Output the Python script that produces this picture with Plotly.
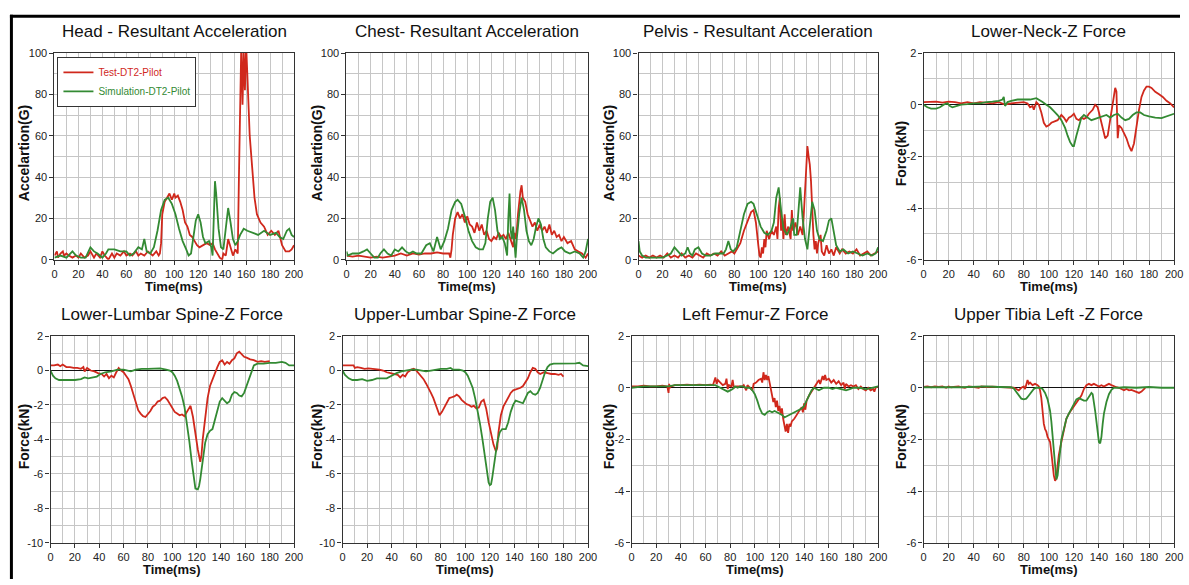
import plotly.graph_objects as go

RED = "#d0281c"
GREEN = "#338a33"
GRID = "#c6c6c6"
AXC = "#333333"

# ---------------- data (time ms, value) ----------------
head_test = [(0,2),(2,4),(3,1),(5,3),(7,4),(8,2),(10,3),(12,2),(15,1),(18,2),(20,1),(22,3),(25,1),(28,2),(30,4),(33,1),(35,3),(38,1),(40,4),(42,2),(45,0),(48,3),(50,1),(52,3),(55,2),(58,4),(60,2),(63,3),(65,2),(68,4),(70,2),(72,3),(75,2),(78,4),(80,3),(82,2),(85,4),(87,2),(88,3),(89,8),(90,22),(92,28),(94,30),(96,32),(98,29),(100,32),(101,30),(103,31),(105,28),(107,24),(109,18),(111,16),(113,12),(115,11),(117,9),(119,7),(121,6),(124,7),(127,8),(130,7),(132,8),(134,5),(136,3),(138,1),(140,0),(141,3),(143,2),(145,10),(147,6),(149,2),(151,5),(153,3),(154,40),(155,80),(156,105),(157,75),(158,100),(159,82),(160,104),(161,90),(162,76),(163,60),(165,45),(167,30),(169,22),(172,18),(175,16),(178,12),(181,14),(184,12),(187,14),(190,7),(193,4),(196,4),(198,5),(200,7)]
head_sim = [(0,1),(5,2),(10,1),(15,4),(18,2),(22,1),(26,1),(30,6),(33,4),(36,3),(40,1),(43,3),(45,5),(50,5),(55,4),(60,4),(63,2),(66,3),(70,6),(73,5),(75,10),(77,4),(80,3),(83,6),(86,14),(89,24),(92,29),(95,30),(98,27),(101,22),(104,15),(107,9),(110,5),(112,2),(114,3),(116,10),(118,19),(120,22),(122,18),(124,11),(126,8),(129,9),(131,6),(132,2),(133,20),(134,38),(135,32),(137,15),(139,6),(141,5),(143,15),(145,25),(147,18),(149,10),(151,7),(153,9),(155,12),(158,15),(161,14),(165,13),(170,12),(175,14),(180,12),(185,13),(188,11),(191,10),(194,14),(196,15),(198,12),(200,11)]

chest_test = [(0,2),(5,1.5),(10,2),(15,1.5),(20,1),(25,1.5),(30,1),(35,1.5),(40,2),(45,3),(50,2),(55,3),(60,2.5),(65,3),(70,3),(75,3.5),(80,3),(85,3),(86,1),(87,5),(88,12),(90,20),(92,23),(94,20),(96,22),(98,18),(100,21),(102,17),(104,16),(106,13),(108,18),(110,14),(112,17),(114,12),(116,14),(118,10),(120,9),(122,11),(124,10),(126,13),(128,11),(130,12),(132,10),(134,13),(136,9),(138,6),(139,13),(140,10),(141,14),(142,22),(144,33),(145,36),(146,30),(148,28),(150,22),(152,19),(154,16),(156,18),(158,14),(160,17),(162,14),(164,16),(166,13),(168,17),(170,12),(172,14),(174,11),(176,12),(178,9),(180,11),(183,8),(186,9),(189,5),(192,4),(195,3),(198,1),(200,3)]
chest_sim = [(0,4),(1,2),(5,3),(10,3),(14,4),(17,5),(20,3),(23,1),(26,1),(28,3),(31,5),(34,3),(37,2),(40,5),(43,4),(46,6),(49,4),(52,3),(55,4),(58,3),(62,3),(66,7),(69,8),(72,4),(75,11),(78,5),(81,9),(84,15),(87,24),(90,28),(92,29),(95,27),(98,21),(101,14),(104,9),(107,6),(110,5),(113,5),(115,8),(117,20),(119,28),(121,30),(123,24),(125,14),(127,10),(129,11),(131,8),(133,2),(134,20),(135,32),(136,14),(137,10),(138,16),(139,8),(140,1),(141,10),(143,22),(145,30),(147,24),(149,14),(151,9),(153,7),(155,10),(157,16),(159,20),(161,17),(163,10),(165,6),(168,4),(171,3),(175,5),(178,6),(181,4),(185,3),(189,4),(193,3),(196,1),(198,4),(200,10)]

pelvis_test = [(0,2),(3,1),(6,2),(9,1),(12,2),(15,1),(18,2),(21,1),(24,3),(27,1),(30,2),(33,1),(36,3),(39,1),(42,2),(45,1),(48,3),(51,2),(54,1),(57,3),(60,2),(63,3),(66,2),(69,4),(72,2),(75,3),(78,4),(80,3),(82,5),(85,8),(88,14),(91,19),(94,23),(96,24),(98,18),(100,7),(101,2),(102,1),(103,6),(104,3),(105,10),(106,6),(107,14),(109,10),(111,14),(113,12),(115,16),(116,10),(117,25),(118,30),(119,14),(120,20),(121,10),(122,22),(123,12),(125,16),(127,10),(128,24),(129,14),(131,18),(133,12),(135,16),(137,12),(138,22),(139,35),(140,45),(141,55),(142,50),(143,46),(144,38),(145,24),(146,12),(147,5),(148,9),(149,3),(150,8),(152,12),(153,4),(155,2),(157,7),(159,3),(161,5),(163,2),(165,6),(168,3),(170,5),(173,3),(176,4),(179,3),(182,5),(185,2),(188,3),(191,4),(194,2),(197,3),(200,4)]
pelvis_sim = [(0,9),(1,4),(3,2),(6,1),(10,1),(15,1),(20,1),(24,2),(27,3),(30,6),(33,4),(36,2),(39,3),(41,6),(43,3),(45,2),(47,5),(50,6),(53,3),(56,2),(60,2),(64,3),(68,3),(71,3),(73,5),(75,9),(77,5),(79,4),(82,6),(85,14),(88,22),(91,27),(94,28),(96,27),(99,22),(102,16),(105,13),(108,12),(111,14),(113,18),(115,30),(117,35),(119,24),(121,15),(124,12),(127,16),(129,20),(130,12),(132,12),(134,30),(135,35),(137,20),(139,10),(141,5),(143,18),(145,28),(147,24),(149,14),(151,10),(154,9),(157,14),(159,19),(161,20),(163,14),(165,7),(168,4),(171,5),(175,3),(179,4),(183,3),(187,2),(191,3),(195,2),(198,3),(200,6)]

neck_test = [(0,0.1),(5,0.1),(10,0.12),(15,0.08),(20,0.12),(25,0.1),(30,0.05),(35,0.1),(40,0.05),(45,0.1),(50,0.08),(55,0.05),(60,0.1),(65,0.0),(70,0.05),(75,0.08),(80,0.1),(83,0.05),(85,-0.1),(87,-0.05),(88,-0.2),(90,0.1),(92,0.0),(94,-0.3),(96,-0.7),(98,-0.85),(100,-0.8),(102,-0.7),(104,-0.65),(107,-0.6),(110,-0.4),(112,-0.5),(114,-0.65),(116,-0.5),(118,-0.45),(120,-0.35),(122,-0.55),(124,-0.6),(126,-0.5),(128,-0.55),(130,-0.5),(132,-0.35),(135,-0.2),(137,0.0),(139,-0.1),(141,-0.5),(143,-1.0),(145,-1.3),(147,-1.2),(149,-0.6),(151,0.0),(152,0.4),(153,0.65),(154,0.5),(155,-1.3),(156,-0.8),(158,-0.9),(160,-1.1),(162,-1.3),(164,-1.6),(166,-1.8),(168,-1.5),(170,-0.8),(172,-0.2),(174,0.3),(176,0.55),(178,0.7),(180,0.7),(182,0.65),(185,0.5),(188,0.4),(191,0.3),(194,0.15),(197,0.05),(200,-0.1)]
neck_sim = [(0,0.0),(3,-0.1),(6,-0.15),(10,-0.15),(13,-0.1),(16,0.0),(19,0.05),(21,-0.05),(23,-0.1),(26,-0.05),(30,0.0),(35,0.02),(40,0.05),(45,0.05),(50,0.1),(55,0.12),(60,0.15),(63,0.2),(64,0.3),(65,-0.05),(67,0.1),(70,0.15),(75,0.2),(80,0.2),(85,0.2),(90,0.25),(92,0.2),(95,0.1),(98,0.0),(101,-0.1),(104,-0.25),(107,-0.4),(110,-0.6),(113,-0.9),(115,-1.2),(117,-1.45),(119,-1.6),(120,-1.6),(122,-1.2),(124,-0.8),(126,-0.5),(128,-0.4),(131,-0.5),(134,-0.6),(137,-0.55),(140,-0.5),(143,-0.45),(146,-0.4),(149,-0.5),(152,-0.4),(155,-0.35),(158,-0.5),(161,-0.6),(164,-0.55),(167,-0.4),(170,-0.3),(173,-0.3),(176,-0.4),(180,-0.45),(185,-0.5),(190,-0.52),(195,-0.45),(200,-0.35)]

lowlumbar_test = [(0,0.3),(3,0.3),(6,0.35),(8,0.25),(10,0.35),(13,0.2),(16,0.2),(19,0.15),(22,0.15),(25,0.1),(27,0.2),(28,-0.05),(30,0.15),(33,0.0),(36,-0.05),(39,-0.15),(42,-0.2),(44,-0.35),(46,-0.2),(48,-0.45),(50,-0.3),(52,-0.4),(54,-0.1),(56,0.15),(58,0.0),(60,-0.1),(62,-0.3),(64,-0.5),(66,-0.9),(68,-1.4),(70,-1.9),(72,-2.3),(74,-2.5),(76,-2.65),(78,-2.7),(80,-2.55),(82,-2.35),(84,-2.1),(86,-2.0),(88,-1.8),(90,-1.75),(92,-1.6),(94,-1.55),(96,-1.7),(98,-1.95),(100,-2.2),(102,-2.4),(104,-2.5),(106,-2.6),(108,-2.55),(110,-2.65),(112,-2.4),(114,-2.2),(115,-2.05),(117,-2.7),(119,-3.7),(121,-4.6),(123,-5.3),(124,-4.9),(125,-4.0),(127,-2.8),(129,-1.6),(131,-0.9),(133,-0.5),(135,-0.2),(137,0.2),(139,0.5),(141,0.6),(143,0.35),(145,0.5),(147,0.4),(149,0.6),(151,0.7),(153,1.0),(155,1.1),(157,0.95),(159,0.8),(161,0.75),(164,0.65),(167,0.6),(170,0.5),(173,0.55),(176,0.5),(180,0.55)]
lowlumbar_sim = [(0,0.0),(2,-0.3),(4,-0.45),(7,-0.55),(10,-0.55),(15,-0.55),(20,-0.55),(25,-0.5),(28,-0.4),(31,-0.45),(35,-0.4),(38,-0.35),(41,-0.2),(45,-0.1),(50,-0.05),(55,0.05),(60,0.05),(63,0.0),(66,-0.05),(70,0.05),(75,0.1),(80,0.1),(85,0.1),(90,0.12),(95,0.05),(98,0.0),(100,-0.1),(102,-0.3),(104,-0.6),(106,-1.0),(108,-1.5),(110,-2.1),(112,-3.0),(114,-4.1),(116,-5.3),(118,-6.4),(119,-6.85),(121,-6.9),(122,-6.7),(123,-6.3),(125,-5.2),(127,-4.2),(129,-3.7),(131,-3.5),(133,-3.4),(135,-2.9),(137,-2.3),(139,-1.8),(141,-1.6),(143,-1.75),(145,-1.9),(147,-1.8),(149,-1.4),(151,-1.25),(153,-1.3),(155,-1.45),(157,-1.5),(159,-1.3),(161,-0.9),(163,-0.4),(165,0.0),(167,0.3),(170,0.4),(175,0.4),(180,0.45),(185,0.45),(190,0.5),(193,0.45),(196,0.3),(200,0.3)]

uplumbar_test = [(0,0.3),(3,0.3),(6,0.28),(9,0.3),(10,0.15),(12,0.2),(15,0.15),(18,0.1),(21,0.12),(24,0.1),(27,0.1),(30,0.05),(33,0.0),(36,-0.1),(39,-0.15),(42,-0.2),(45,-0.25),(47,-0.4),(49,-0.25),(51,-0.35),(53,-0.1),(56,0.05),(58,0.1),(60,0.0),(62,-0.15),(64,-0.3),(66,-0.5),(68,-0.75),(70,-1.0),(72,-1.3),(74,-1.6),(76,-2.0),(78,-2.5),(79,-2.6),(81,-2.4),(83,-2.1),(85,-1.8),(87,-1.6),(89,-1.55),(91,-1.5),(93,-1.4),(95,-1.5),(97,-1.7),(99,-1.85),(101,-1.95),(103,-2.0),(105,-2.1),(107,-2.05),(109,-2.2),(111,-2.15),(113,-1.8),(115,-1.7),(117,-2.2),(119,-3.0),(121,-3.7),(123,-4.3),(125,-4.7),(126,-4.5),(127,-3.6),(129,-2.6),(131,-2.1),(133,-1.8),(135,-1.5),(137,-1.3),(139,-1.15),(141,-1.1),(143,-1.05),(145,-1.0),(147,-0.9),(149,-0.7),(151,-0.45),(153,-0.1),(155,0.15),(157,0.1),(159,-0.1),(161,-0.2),(164,-0.1),(167,-0.15),(170,-0.2),(173,-0.2),(176,-0.25),(178,-0.2),(180,-0.35)]
uplumbar_sim = [(0,0.0),(2,-0.25),(5,-0.45),(8,-0.55),(12,-0.55),(16,-0.5),(20,-0.6),(24,-0.55),(28,-0.45),(32,-0.45),(36,-0.45),(40,-0.3),(44,-0.15),(48,-0.05),(52,0.0),(56,0.05),(60,0.05),(64,0.0),(68,-0.05),(72,0.0),(76,0.05),(80,0.1),(85,0.1),(88,0.15),(90,0.05),(95,0.05),(98,0.0),(100,-0.1),(102,-0.3),(104,-0.6),(106,-1.0),(108,-1.6),(110,-2.3),(112,-3.1),(114,-4.0),(116,-5.0),(118,-5.9),(119,-6.5),(120,-6.65),(121,-6.6),(122,-6.2),(124,-5.2),(126,-4.2),(128,-3.6),(130,-3.4),(133,-3.4),(135,-3.0),(137,-2.4),(139,-2.0),(141,-1.75),(143,-1.8),(145,-1.85),(147,-1.9),(149,-1.6),(151,-1.3),(153,-1.2),(155,-1.35),(157,-1.4),(159,-1.3),(161,-1.0),(163,-0.5),(165,-0.1),(167,0.2),(169,0.35),(172,0.4),(176,0.4),(180,0.4),(185,0.4),(190,0.42),(193,0.45),(196,0.3),(200,0.25)]

femur_test = [(0,0.05),(5,0.05),(10,0.08),(15,0.05),(20,0.05),(25,0.08),(29,0.05),(30,-0.2),(30.5,0.15),(31,0.0),(32,0.05),(35,0.1),(40,0.1),(45,0.12),(50,0.1),(55,0.12),(60,0.1),(64,0.12),(66,0.1),(67,0.25),(68,0.4),(69,0.15),(70,0.3),(72,0.2),(74,0.1),(76,0.15),(77,0.35),(78,-0.05),(79,0.1),(81,0.05),(82,0.3),(83,0.0),(85,0.05),(88,0.05),(90,0.05),(91,0.1),(93,-0.1),(94,0.1),(96,0.0),(98,-0.1),(99,0.15),(101,0.2),(103,0.3),(105,0.35),(106,0.2),(107,0.6),(108,0.3),(109,0.5),(110,0.3),(111,0.45),(112,0.2),(113,0.0),(114,-0.3),(115,-0.55),(116,-0.4),(117,-0.75),(118,-0.5),(119,-0.9),(120,-0.7),(121,-1.0),(122,-0.8),(123,-1.2),(124,-1.5),(125,-1.7),(126,-1.4),(127,-1.75),(128,-1.4),(129,-1.5),(130,-1.3),(132,-1.2),(134,-1.05),(136,-0.9),(138,-0.75),(139,-0.95),(140,-0.6),(141,-0.85),(142,-0.5),(144,-0.3),(146,-0.15),(148,0.05),(150,0.2),(152,0.3),(153,0.15),(155,0.45),(156,0.3),(157,0.5),(158,0.3),(160,0.35),(162,0.2),(164,0.3),(166,0.15),(168,0.25),(170,0.1),(172,0.2),(173,-0.05),(174,0.15),(176,0.05),(178,0.1),(180,0.05),(182,0.1),(184,-0.05),(186,0.05),(188,-0.05),(190,-0.1),(192,0.0),(194,-0.1),(196,-0.05),(197,-0.15),(198,0.0),(200,0.05)]
femur_sim = [(0,0.0),(5,0.03),(10,0.05),(20,0.05),(30,0.05),(35,0.1),(40,0.1),(50,0.1),(60,0.1),(65,0.12),(68,0.1),(70,0.05),(72,0.0),(74,-0.05),(76,-0.1),(78,-0.15),(80,-0.1),(82,-0.05),(84,0.05),(86,0.0),(88,0.05),(90,0.05),(93,0.0),(96,0.0),(98,-0.1),(100,-0.25),(102,-0.5),(104,-0.8),(106,-1.0),(108,-1.05),(110,-0.95),(112,-0.9),(114,-0.95),(116,-0.9),(118,-0.95),(120,-1.0),(122,-1.05),(124,-1.15),(126,-1.1),(128,-1.05),(130,-1.0),(132,-0.95),(134,-0.9),(136,-0.85),(138,-0.8),(140,-0.7),(142,-0.5),(144,-0.3),(146,-0.1),(148,0.0),(150,-0.05),(152,-0.1),(154,-0.05),(156,0.0),(160,0.0),(163,-0.05),(166,0.0),(170,-0.05),(174,-0.1),(177,-0.05),(180,0.0),(185,0.0),(190,-0.05),(195,0.0),(200,0.05)]

tibia_test = [(0,0.03),(3,0.05),(6,0.02),(9,0.05),(12,0.03),(15,0.05),(18,0.0),(20,0.05),(22,0.02),(25,0.03),(28,0.05),(30,0.02),(33,0.0),(36,0.05),(40,0.03),(44,0.0),(46,0.05),(50,0.03),(55,0.04),(60,0.03),(65,0.03),(70,0.02),(72,0.0),(74,-0.05),(76,-0.1),(78,0.0),(80,0.05),(81,-0.05),(82,0.1),(83,0.3),(84,0.15),(85,0.2),(87,0.1),(89,0.15),(91,0.1),(92,0.05),(93,-0.1),(94,-0.4),(95,-0.9),(96,-1.4),(97,-1.6),(98,-1.7),(99,-1.9),(100,-2.0),(101,-2.1),(102,-2.5),(103,-3.0),(104,-3.4),(105,-3.6),(106,-3.5),(107,-3.0),(108,-2.6),(110,-2.1),(112,-1.6),(114,-1.2),(116,-1.0),(118,-0.85),(120,-0.75),(122,-0.6),(124,-0.45),(126,-0.3),(128,-0.05),(130,0.1),(132,0.15),(134,0.1),(136,0.15),(138,0.1),(140,0.05),(142,0.1),(144,0.05),(146,0.1),(148,0.15),(150,0.1),(152,0.05),(154,0.02),(156,0.0),(158,-0.05),(160,-0.1),(162,-0.05),(164,-0.1),(166,-0.08),(168,-0.12),(170,-0.18),(172,-0.2),(174,-0.15),(176,-0.05),(177,0.0)]
tibia_sim = [(0,0.02),(10,0.03),(20,0.02),(30,0.02),(40,0.03),(50,0.05),(60,0.03),(70,0.02),(72,-0.03),(74,-0.15),(76,-0.3),(78,-0.42),(80,-0.45),(82,-0.42),(84,-0.3),(86,-0.15),(88,-0.05),(90,0.0),(93,0.0),(95,-0.05),(97,-0.2),(99,-0.45),(101,-0.9),(102,-1.3),(103,-1.8),(104,-2.4),(105,-3.1),(106,-3.55),(107,-3.4),(108,-2.9),(109,-2.4),(110,-2.0),(112,-1.6),(114,-1.2),(116,-1.0),(118,-0.8),(120,-0.6),(122,-0.45),(124,-0.4),(126,-0.45),(128,-0.5),(130,-0.5),(132,-0.35),(134,-0.2),(135,-0.25),(136,-0.5),(137,-0.9),(138,-1.3),(139,-1.8),(140,-2.1),(141,-2.15),(142,-1.9),(143,-1.4),(144,-1.0),(146,-0.55),(148,-0.25),(150,-0.08),(152,0.0),(156,0.0),(160,0.02),(170,0.0),(180,0.03),(190,0.0),(200,0.0)]

titles = ["Head - Resultant Acceleration", "Chest- Resultant Acceleration",
          "Pelvis - Resultant Acceleration", "Lower-Neck-Z Force",
          "Lower-Lumbar Spine-Z Force", "Upper-Lumbar Spine-Z Force",
          "Left Femur-Z Force", "Upper Tibia Left -Z Force"]
ylabels = ["Accelartion(G)"] * 3 + ["Force(kN)"] * 5
xlabel = "Time(ms)"
series_names = ["Test-DT2-Pilot", "Simulation-DT2-Pilot"]
test_series = [head_test, chest_test, pelvis_test, neck_test,
               lowlumbar_test, uplumbar_test, femur_test, tibia_test]
sim_series = [head_sim, chest_sim, pelvis_sim, neck_sim,
              lowlumbar_sim, uplumbar_sim, femur_sim, tibia_sim]
x_ticks = [0, 20, 40, 60, 80, 100, 120, 140, 160, 180, 200]
acc_ticks = [0, 20, 40, 60, 80, 100]
force6_ticks = [-6, -4, -2, 0, 2]
force10_ticks = [-10, -8, -6, -4, -2, 0, 2]

# ---------------- layout geometry (pixels) ----------------
W, H = 1189, 585
# (left, right, top, bottom) of each plot area in pixels
boxes = [(52, 294, 48, 259), (347, 591, 48, 259), (642, 884, 48, 259), (930, 1183, 48, 259),
         (48, 294, 337, 548), (343, 591, 337, 548), (635, 884, 337, 548), (930, 1183, 337, 548)]
ylab_x = [22, 318, 613, 908, 22, 318, 613, 908]
y_axis_kind = ["acc", "acc", "acc", "f6", "f10", "f10", "f6", "f6"]

FONT = "Liberation Sans, Arial, sans-serif"


def fx(px):
    return px / W


def fy(py):
    return 1 - py / H


fig = go.Figure()
layout = dict(width=W, height=H, margin=dict(l=0, r=0, t=0, b=0),
              paper_bgcolor="white", plot_bgcolor="white",
              showlegend=True)
annotations = []

for i in range(8):
    n = "" if i == 0 else str(i + 1)
    l, r, t, b = boxes[i]
    tick_font = dict(family=FONT, size=11, color="#222")
    xa = dict(domain=[fx(l), fx(r)], range=[0, 200], anchor="y" + n,
              tickmode="array", tickvals=x_ticks, ticktext=[str(v) for v in x_ticks],
              ticks="outside", ticklen=4, tickcolor=AXC, tickwidth=1,
              showgrid=True, gridcolor=GRID, gridwidth=1,
              minor=dict(tickmode="linear", tick0=0, dtick=10, showgrid=True,
                         gridcolor=GRID, gridwidth=1, ticks=""),
              showline=True, linecolor=AXC, linewidth=1.3, mirror=True,
              zeroline=False, tickfont=tick_font, fixedrange=True)
    kind = y_axis_kind[i]
    if kind == "acc":
        tv, rng, md, zl = acc_ticks, [0, 100], 10, False
    elif kind == "f6":
        tv, rng, md, zl = force6_ticks, [-6, 2], 1, True
    else:
        tv, rng, md, zl = force10_ticks, [-10, 2], 1, True
    ya = dict(domain=[fy(b), fy(t)], range=rng, anchor="x" + n,
              tickmode="array", tickvals=tv, ticktext=[str(v) for v in tv],
              ticks="outside", ticklen=4, tickcolor=AXC, tickwidth=1,
              showgrid=True, gridcolor=GRID, gridwidth=1,
              minor=dict(tickmode="linear", tick0=0, dtick=md, showgrid=True,
                         gridcolor=GRID, gridwidth=1, ticks=""),
              showline=True, linecolor=AXC, linewidth=1.3, mirror=True,
              zeroline=zl, zerolinecolor="#111", zerolinewidth=1,
              tickfont=tick_font, fixedrange=True)
    layout["xaxis" + n] = xa
    layout["yaxis" + n] = ya

    for s, (data, col) in enumerate([(test_series[i], RED), (sim_series[i], GREEN)]):
        fig.add_trace(go.Scatter(
            x=[p[0] for p in data], y=[p[1] for p in data],
            mode="lines", line=dict(color=col, width=1.8),
            name='<span style="color:%s">%s</span>' % (col, series_names[s]),
            showlegend=(i == 0),
            xaxis="x" + n, yaxis="y" + n, hoverinfo="x+y"))

    cx = (l + r) / 2
    top_title_y = 26 if i < 4 else 315
    annotations.append(dict(text=titles[i], x=fx(cx), y=fy(top_title_y), xref="paper", yref="paper",
                            xanchor="center", yanchor="middle", showarrow=False,
                            font=dict(family=FONT, size=17, color="#111")))
    annotations.append(dict(text="<b>%s</b>" % ylabels[i], x=fx(ylab_x[i]), y=fy((t + b) / 2 - 3),
                            xref="paper", yref="paper", textangle=-90,
                            xanchor="center", yanchor="middle", showarrow=False,
                            font=dict(family=FONT, size=14, color="#111")))
    annotations.append(dict(text="<b>%s</b>" % xlabel, x=fx(cx), y=fy(b + 27),
                            xref="paper", yref="paper",
                            xanchor="center", yanchor="middle", showarrow=False,
                            font=dict(family=FONT, size=13, color="#111")))

layout["annotations"] = annotations
layout["legend"] = dict(x=fx(55), y=fy(52), xanchor="left", yanchor="top",
                        bgcolor="white", bordercolor="#333", borderwidth=1,
                        font=dict(family=FONT, size=10), tracegroupgap=0)
layout["shapes"] = [
    dict(type="line", xref="paper", yref="paper", x0=fx(7), x1=1, y0=fy(10.5), y1=fy(10.5),
         line=dict(color="black", width=3)),
    dict(type="line", xref="paper", yref="paper", x0=fx(8.5), x1=fx(8.5), y0=fy(9), y1=0,
         line=dict(color="black", width=3)),
]
fig.update_layout(**layout)
fig.write_html("out.html")
